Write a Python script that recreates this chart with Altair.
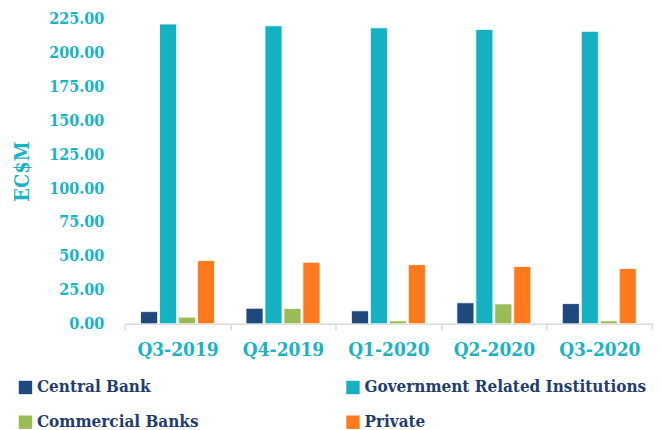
import altair as alt
import pandas as pd

quarters = ["Q3-2019", "Q4-2019", "Q1-2020", "Q2-2020", "Q3-2020"]
series = ["Central Bank", "Government Related Institutions", "Commercial Banks", "Private"]
central_bank = [9.0, 11.5, 9.6, 15.5, 14.9]
government_related = [220.8, 219.5, 218.0, 216.8, 215.4]
commercial_banks = [4.9, 11.3, 2.2, 14.7, 2.2]
private = [46.6, 45.4, 43.6, 42.2, 40.7]
colors = ["#1F497D", "#14B1C2", "#9BBB59", "#FF7A1C"]
y_ticks = [0, 25, 50, 75, 100, 125, 150, 175, 200, 225]

values = [central_bank, government_related, commercial_banks, private]
rows = []
for s, vals in zip(series, values):
    for q, v in zip(quarters, vals):
        rows.append({"quarter": q, "series": s, "value": v})
df = pd.DataFrame(rows)

TEAL = "#1AB3C3"
NAVY = "#1F3D6E"
FONT = "DejaVu Serif Condensed, DejaVu Serif, serif"

chart = (
    alt.Chart(df)
    .mark_bar(stroke="white", strokeWidth=0.8)
    .encode(
        x=alt.X(
            "quarter:N",
            sort=quarters,
            scale=alt.Scale(paddingInner=0, paddingOuter=0),
            axis=alt.Axis(
                title=None,
                labelAngle=0,
                labelFont=FONT,
                labelFontWeight="bold",
                labelFontSize=19,
                labelColor=TEAL,
                labelPadding=11,
                domainColor="#D9D9D9",
                domainWidth=1.5,
                tickColor="#D9D9D9",
                tickWidth=1.5,
                tickSize=6,
                tickBand="extent",
            ),
        ),
        xOffset=alt.XOffset(
            "series:N",
            sort=series,
            scale=alt.Scale(paddingInner=0.1, paddingOuter=0.83),
        ),
        y=alt.Y(
            "value:Q",
            scale=alt.Scale(domain=[0, 225], nice=False),
            axis=alt.Axis(
                title="EC$M",
                titleFont=FONT,
                titleFontWeight="bold",
                titleFontSize=20,
                titleColor=TEAL,
                titlePadding=16,
                values=y_ticks,
                format=".2f",
                labelFont=FONT,
                labelFontWeight="bold",
                labelFontSize=16,
                labelColor=TEAL,
                labelPadding=21,
                ticks=False,
                domain=False,
                grid=False,
            ),
        ),
        color=alt.Color(
            "series:N",
            sort=series,
            scale=alt.Scale(domain=series, range=colors),
            legend=alt.Legend(
                title=None,
                orient="none",
                legendX=-108,
                legendY=361,
                direction="horizontal",
                columns=2,
                gridAlign="all",
                columnPadding=25,
                rowPadding=17,
                symbolType="square",
                symbolSize=180,
                symbolStrokeWidth=0,
                labelFont=FONT,
                labelFontWeight="bold",
                labelFontSize=17,
                labelColor=NAVY,
                labelOffset=3,
                labelLimit=400,
            ),
        ),
    )
    .properties(width=528, height=306, padding={"left": 4, "top": 2, "right": 0, "bottom": 0})
    .configure_view(stroke=None)
)

chart.save("out.html", embed_options={"renderer": "svg", "actions": False})
